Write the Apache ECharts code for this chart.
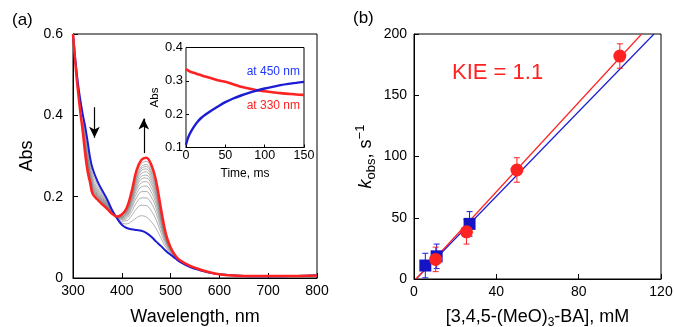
<!DOCTYPE html>
<html><head><meta charset="utf-8">
<script src="https://cdn.jsdelivr.net/npm/echarts@6/dist/echarts.min.js"></script>
<style>html,body{margin:0;padding:0;background:#fff}#c{width:674px;height:327px}</style>
</head><body><div id="c"></div>
<script>
// ---------- Panel (a): spectra ----------
const wavelengths = [300,305,310,315,320,325,330,335,340,350,360,370,380,390,400,410,420,430,440,450,460,470,480,490,500,510,520,540,560,580,600,650,700,750,800];
const blueSpectrum = [0.600,0.535,0.480,0.438,0.402,0.372,0.335,0.296,0.270,0.238,0.215,0.193,0.167,0.147,0.131,0.123,0.120,0.118,0.116,0.111,0.102,0.090,0.079,0.067,0.057,0.048,0.039,0.027,0.019,0.013,0.009,0.005,0.004,0.005,0.007];
const redSpectrum = [0.600,0.525,0.462,0.408,0.360,0.305,0.262,0.235,0.208,0.193,0.181,0.170,0.158,0.151,0.156,0.172,0.212,0.264,0.290,0.296,0.280,0.240,0.172,0.110,0.075,0.055,0.043,0.030,0.021,0.014,0.009,0.005,0.005,0.005,0.006];
const grayWavelengths = [320,330,340,350,360,370,380,390,400,410,420,430,440,450,460,470,480,490,500,510,520,540];
const graySpectra = [
  [0.362,0.266,0.211,0.195,0.184,0.171,0.158,0.151,0.155,0.170,0.207,0.255,0.281,0.287,0.271,0.233,0.167,0.108,0.074,0.055,0.043,0.030],
  [0.364,0.269,0.214,0.197,0.185,0.172,0.159,0.151,0.154,0.168,0.204,0.249,0.274,0.279,0.264,0.227,0.164,0.106,0.073,0.054,0.043,0.030],
  [0.365,0.271,0.215,0.198,0.186,0.173,0.159,0.151,0.153,0.166,0.201,0.245,0.269,0.274,0.259,0.222,0.161,0.105,0.073,0.054,0.043,0.030],
  [0.366,0.273,0.217,0.200,0.187,0.173,0.159,0.150,0.152,0.165,0.198,0.240,0.264,0.268,0.253,0.218,0.158,0.104,0.072,0.054,0.042,0.030],
  [0.368,0.276,0.220,0.202,0.188,0.174,0.160,0.150,0.151,0.163,0.195,0.235,0.257,0.261,0.246,0.212,0.154,0.102,0.072,0.054,0.042,0.029],
  [0.369,0.279,0.222,0.203,0.190,0.175,0.160,0.150,0.150,0.161,0.191,0.229,0.250,0.253,0.239,0.206,0.151,0.100,0.071,0.053,0.042,0.029],
  [0.371,0.282,0.225,0.205,0.191,0.176,0.160,0.150,0.149,0.159,0.187,0.223,0.243,0.246,0.232,0.200,0.147,0.098,0.070,0.053,0.042,0.029],
  [0.373,0.285,0.228,0.207,0.193,0.177,0.161,0.150,0.148,0.156,0.183,0.216,0.234,0.237,0.223,0.192,0.142,0.096,0.069,0.053,0.042,0.029],
  [0.375,0.290,0.232,0.210,0.195,0.178,0.161,0.149,0.147,0.153,0.177,0.207,0.224,0.226,0.212,0.183,0.137,0.094,0.068,0.052,0.041,0.029],
  [0.378,0.295,0.236,0.213,0.197,0.180,0.162,0.149,0.145,0.150,0.171,0.197,0.212,0.213,0.200,0.173,0.130,0.091,0.067,0.052,0.041,0.029],
  [0.381,0.301,0.241,0.217,0.200,0.182,0.163,0.149,0.143,0.146,0.163,0.185,0.197,0.197,0.185,0.160,0.122,0.087,0.065,0.051,0.041,0.028],
  [0.386,0.309,0.248,0.222,0.203,0.184,0.164,0.148,0.140,0.141,0.153,0.170,0.179,0.178,0.166,0.144,0.112,0.082,0.063,0.051,0.040,0.028],
  [0.392,0.320,0.257,0.229,0.208,0.187,0.165,0.148,0.136,0.133,0.139,0.148,0.153,0.150,0.139,0.122,0.099,0.076,0.061,0.049,0.040,0.028]
];
const arrowDown = [[344, 0.42], [344, 0.345]];
const arrowUp = [[445, 0.307], [445, 0.392]];

// ---------- Inset: kinetic traces ----------
const timeMs = [0,2,5,10,15,20,30,40,50,60,70,80,90,100,110,120,130,140,150];
const trace450 = [0.108,0.125,0.142,0.162,0.178,0.190,0.207,0.222,0.236,0.247,0.256,0.264,0.271,0.277,0.282,0.287,0.291,0.294,0.297];
const trace330 = [0.336,0.332,0.328,0.324,0.320,0.316,0.309,0.302,0.297,0.290,0.282,0.277,0.272,0.269,0.266,0.263,0.261,0.259,0.258];

// ---------- Panel (b): kobs vs concentration ----------
const concH = [5.5, 11, 27];
const kobsH = [11, 18.5, 45];
const errH = [10, 10, 10];
const concD = [10.5, 25.5, 50, 100];
const kobsD = [16, 38.5, 89, 182];
const errD = [10, 10, 10, 10];
const fitH = [[1, 0], [116.6, 200]];
const fitD = [[1, 0], [110.6, 200]];

const xTicksA = [300, 800, 100];
const yTicksA = [0, 0.6, 0.2];
const xTicksB = [0, 120, 40];
const yTicksB = [0, 200, 50];

const FONT = '"Liberation Sans", Arial, Helvetica, sans-serif';
const BLUE = '#1c1cd2';
const RED = '#ff2222';

const pairs = (xs, ys) => xs.map((x, i) => [x, ys[i]]);

function axis(extra, fs, tickLen) {
  return Object.assign({
    type: 'value',
    axisLine: {show: true, onZero: false, lineStyle: {color: '#000', width: 1}},
    axisTick: {show: true, inside: true, length: tickLen, lineStyle: {color: '#000', width: 1}},
    axisLabel: {color: '#000', fontSize: fs, fontFamily: FONT},
    splitLine: {show: false},
    nameTextStyle: {color: '#000', fontSize: 18, fontFamily: FONT}
  }, extra);
}

function errRender(color) {
  return function (params, api) {
    const x = api.value(0), y = api.value(1), e = api.value(2);
    const t = api.coord([x, y + e]), b = api.coord([x, y - e]);
    const w = 3;
    const st = {stroke: color, lineWidth: 1};
    return {type: 'group', children: [
      {type: 'line', shape: {x1: t[0], y1: t[1], x2: b[0], y2: b[1]}, style: st},
      {type: 'line', shape: {x1: t[0] - w, y1: t[1], x2: t[0] + w, y2: t[1]}, style: st},
      {type: 'line', shape: {x1: b[0] - w, y1: b[1], x2: b[0] + w, y2: b[1]}, style: st}
    ]};
  };
}

const series = [];
graySpectra.forEach((g) => {
  series.push({type: 'line', xAxisIndex: 0, yAxisIndex: 0, data: pairs(grayWavelengths, g),
    smooth: 0.4, showSymbol: false, symbol: 'none', lineStyle: {color: '#7a7a7a', width: 0.6}, z: 2, silent: true});
});
series.push({type: 'line', xAxisIndex: 0, yAxisIndex: 0, data: pairs(wavelengths, blueSpectrum),
  smooth: 0.4, symbol: 'none', lineStyle: {color: BLUE, width: 2}, z: 3});
series.push({type: 'line', xAxisIndex: 0, yAxisIndex: 0, data: pairs(wavelengths, redSpectrum),
  smooth: 0.4, symbol: 'none', lineStyle: {color: RED, width: 2.5}, z: 4,
  markLine: {silent: true, symbol: ['none', 'arrow'], symbolSize: [8, 11], label: {show: false},
    lineStyle: {color: '#000', width: 1.2, type: 'solid'},
    data: [
      [{coord: arrowDown[0]}, {coord: arrowDown[1]}],
      [{coord: arrowUp[0]}, {coord: arrowUp[1]}]
    ]}});
// inset
series.push({type: 'line', xAxisIndex: 1, yAxisIndex: 1, data: pairs(timeMs, trace330),
  smooth: 0.3, symbol: 'none', lineStyle: {color: RED, width: 2.6}, z: 5});
series.push({type: 'line', xAxisIndex: 1, yAxisIndex: 1, data: pairs(timeMs, trace450),
  smooth: 0.3, symbol: 'none', lineStyle: {color: BLUE, width: 2.4}, z: 5});
// panel b
series.push({type: 'line', xAxisIndex: 2, yAxisIndex: 2, data: fitH, symbol: 'none',
  lineStyle: {color: BLUE, width: 1.2}, z: 2});
series.push({type: 'line', xAxisIndex: 2, yAxisIndex: 2, data: fitD, symbol: 'none',
  lineStyle: {color: RED, width: 1.2}, z: 2});
series.push({type: 'custom', xAxisIndex: 2, yAxisIndex: 2, renderItem: errRender(BLUE),
  data: concH.map((x, i) => [x, kobsH[i], errH[i]]), encode: {x: 0, y: 1}, z: 3});
series.push({type: 'custom', xAxisIndex: 2, yAxisIndex: 2, renderItem: errRender(RED),
  data: concD.map((x, i) => [x, kobsD[i], errD[i]]), encode: {x: 0, y: 1}, z: 3});
series.push({type: 'scatter', xAxisIndex: 2, yAxisIndex: 2, data: pairs(concH, kobsH),
  symbol: 'rect', symbolSize: 12, itemStyle: {color: '#1414c4', opacity: 1}, z: 4});
series.push({type: 'scatter', xAxisIndex: 2, yAxisIndex: 2, data: pairs(concD, kobsD),
  symbol: 'circle', symbolSize: 13, itemStyle: {color: RED, opacity: 1}, z: 5});

const chart = echarts.init(document.getElementById('c'));
const gridBase = {show: true, borderColor: '#000', borderWidth: 1, containLabel: false, outerBoundsMode: 'none'};
chart.setOption({
  animation: false,
  backgroundColor: '#fff',
  grid: [
    Object.assign({left: 73, top: 34, width: 244, height: 244, backgroundColor: 'transparent'}, gridBase),
    Object.assign({left: 186, top: 47.5, width: 118, height: 100, backgroundColor: '#fff', z: 3}, gridBase),
    Object.assign({left: 414, top: 34, width: 247, height: 245, backgroundColor: 'transparent'}, gridBase)
  ],
  xAxis: [
    axis({gridIndex: 0, min: xTicksA[0], max: xTicksA[1], interval: xTicksA[2],
      name: 'Wavelength, nm', nameLocation: 'middle', nameGap: 30,
      axisLabel: {color: '#000', fontSize: 14, fontFamily: FONT, margin: 6}}, 14, 5),
    axis({gridIndex: 1, min: 0, max: 150, interval: 50, z: 4,
      name: 'Time, ms', nameLocation: 'middle', nameGap: 20,
      nameTextStyle: {color: '#000', fontSize: 12, fontFamily: FONT},
      axisLabel: {color: '#000', fontSize: 12.5, fontFamily: FONT, margin: 2}}, 12.5, 3),
    axis({gridIndex: 2, min: xTicksB[0], max: xTicksB[1], interval: xTicksB[2],
      name: '[3,4,5-(MeO){sub|3}-BA], mM', nameLocation: 'middle', nameGap: 26,
      nameTextStyle: {color: '#000', fontSize: 18, fontFamily: FONT, lineHeight: 24,
        rich: {sub: {fontSize: 12, fontFamily: FONT, color: '#000', verticalAlign: 'bottom', lineHeight: 13}}},
      axisLabel: {color: '#000', fontSize: 14, fontFamily: FONT, margin: 6}}, 14, 5)
  ],
  yAxis: [
    axis({gridIndex: 0, min: yTicksA[0], max: yTicksA[1], interval: yTicksA[2],
      name: 'Abs', nameLocation: 'middle', nameGap: 37, nameRotate: 90,
      axisLabel: {color: '#000', fontSize: 14, fontFamily: FONT, margin: 10,
        formatter: v => v === 0 ? '0' : v.toFixed(1)}}, 14, 5),
    axis({gridIndex: 1, min: 0.1, max: 0.4, interval: 0.1, z: 4,
      name: 'Abs', nameLocation: 'middle', nameGap: 23, nameRotate: 90,
      nameTextStyle: {color: '#000', fontSize: 11.5, fontFamily: FONT},
      axisLine: {show: true, onZero: false, lineStyle: {color: '#888', width: 1}},
      axisLabel: {color: '#000', fontSize: 13, fontFamily: FONT, margin: 3,
        formatter: v => v.toFixed(1)}}, 13, 3),
    axis({gridIndex: 2, min: yTicksB[0], max: yTicksB[1], interval: yTicksB[2],
      name: '{i|k}{sub|obs}{t|, s}{sup|\u22121}', nameLocation: 'middle', nameGap: 36, nameRotate: 90,
      nameTextStyle: {color: '#000', fontSize: 18, fontFamily: FONT, lineHeight: 24,
        rich: {
          i: {fontStyle: 'italic', fontSize: 18, fontFamily: FONT, color: '#000', lineHeight: 24},
          t: {fontSize: 18, fontFamily: FONT, color: '#000', lineHeight: 24},
          sub: {fontSize: 13, fontFamily: FONT, color: '#000', verticalAlign: 'bottom', lineHeight: 13},
          sup: {fontSize: 13, fontFamily: FONT, color: '#000', verticalAlign: 'top', lineHeight: 13}
        }},
      axisLabel: {color: '#000', fontSize: 14, fontFamily: FONT, margin: 7}}, 14, 5)
  ],
  graphic: [
    {type: 'text', left: 12, top: 12, style: {text: '(a)', font: '17px ' + FONT, fill: '#000'}},
    {type: 'text', left: 353, top: 10, style: {text: '(b)', font: '17px ' + FONT, fill: '#000'}},
    {type: 'text', x: 452, y: 73, style: {text: 'KIE = 1.1', font: '22px ' + FONT, fill: RED, textVerticalAlign: 'middle'}},
    {type: 'text', x: 300, y: 72, z: 10, style: {text: 'at 450 nm', font: '12px ' + FONT, fill: '#2038ff', textAlign: 'right', textVerticalAlign: 'middle'}},
    {type: 'text', x: 300, y: 106, z: 10, style: {text: 'at 330 nm', font: '12px ' + FONT, fill: RED, textAlign: 'right', textVerticalAlign: 'middle'}}
  ],
  series: series
});
</script>
</body></html>
